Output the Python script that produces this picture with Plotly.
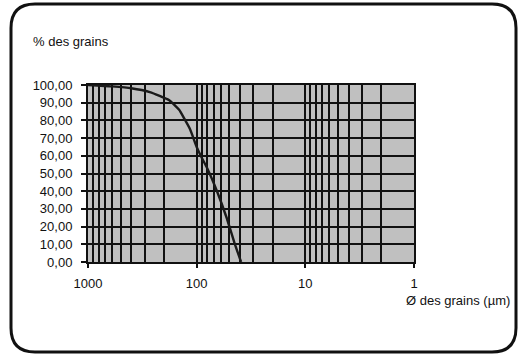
import plotly.graph_objects as go

diam_um = [1000, 600, 400, 270, 180, 145, 130, 115, 100, 90, 80, 65, 53, 45, 39]
pct_grains = [100, 99.2, 98.2, 96, 91.5, 86, 81, 75, 65, 59, 53, 40, 25, 11, 0]

x_major = [1000, 100, 10, 1]
x_major_text = ["1000", "100", "10", "1"]
y_ticks = [0, 10, 20, 30, 40, 50, 60, 70, 80, 90, 100]
y_text = ["0,00", "10,00", "20,00", "30,00", "40,00", "50,00", "60,00", "70,00", "80,00", "90,00", "100,00"]
x_minor = [m * d for d in (1, 10, 100) for m in range(2, 10)]

W, H = 519, 360
L, R, T, B = 88, 414, 85, 262
FONT = "Liberation Sans, Arial, sans-serif"

fig = go.Figure()
fig.add_trace(go.Scatter(x=diam_um, y=pct_grains, mode="lines",
                         line=dict(color="#1a1a1a", width=2.4, shape="spline", smoothing=0.5),
                         hoverinfo="skip", showlegend=False))

def px(xp):
    return (xp - L) / (R - L)

def py(yp):
    return (B - yp) / (B - T)

# rounded frame
x0, x1, y0, y1, r = 11, 516, 4, 352, 24
path = (f"M {px(x0 + r)},{py(y0)} L {px(x1 - r)},{py(y0)} "
        f"Q {px(x1)},{py(y0)} {px(x1)},{py(y0 + r)} "
        f"L {px(x1)},{py(y1 - r)} Q {px(x1)},{py(y1)} {px(x1 - r)},{py(y1)} "
        f"L {px(x0 + r)},{py(y1)} Q {px(x0)},{py(y1)} {px(x0)},{py(y1 - r)} "
        f"L {px(x0)},{py(y0 + r)} Q {px(x0)},{py(y0)} {px(x0 + r)},{py(y0)} Z")
fig.add_shape(type="path", path=path, xref="paper", yref="paper",
              line=dict(color="#111", width=3), layer="below")

fig.add_annotation(text="% des grains", xref="paper", yref="paper",
                   x=px(31), y=py(41), xanchor="left", yanchor="middle", showarrow=False,
                   font=dict(family=FONT, size=13, color="#111"))
fig.add_annotation(text="Ø des grains (µm)", xref="paper", yref="paper",
                   x=px(404), y=py(300), xanchor="left", yanchor="middle", showarrow=False,
                   font=dict(family=FONT, size=13, color="#111"))

fig.update_layout(
    width=W, height=H,
    margin=dict(l=L, r=W - R, t=T, b=H - B),
    paper_bgcolor="white", plot_bgcolor="#c0c0c0",
    font=dict(family=FONT, size=13, color="#111"),
    xaxis=dict(type="log", range=[3, 0], tickvals=x_major, ticktext=x_major_text,
               showgrid=True, gridcolor="#111", gridwidth=2,
               showline=True, linecolor="#111", linewidth=2, mirror=True,
               ticks="outside", ticklen=4, tickcolor="#111", tickwidth=1.5,
               ticklabelstandoff=4,
               minor=dict(tickvals=x_minor, showgrid=True, gridcolor="#111", gridwidth=2,
                          ticks=""),
               fixedrange=True, zeroline=False),
    yaxis=dict(range=[0, 100], tickvals=y_ticks, ticktext=y_text,
               showgrid=True, gridcolor="#111", gridwidth=2,
               showline=True, linecolor="#111", linewidth=2, mirror=True,
               ticks="outside", ticklen=5, tickcolor="#111", tickwidth=1.5,
               ticklabelstandoff=6, zeroline=False, fixedrange=True),
)

fig.write_html("out.html")
